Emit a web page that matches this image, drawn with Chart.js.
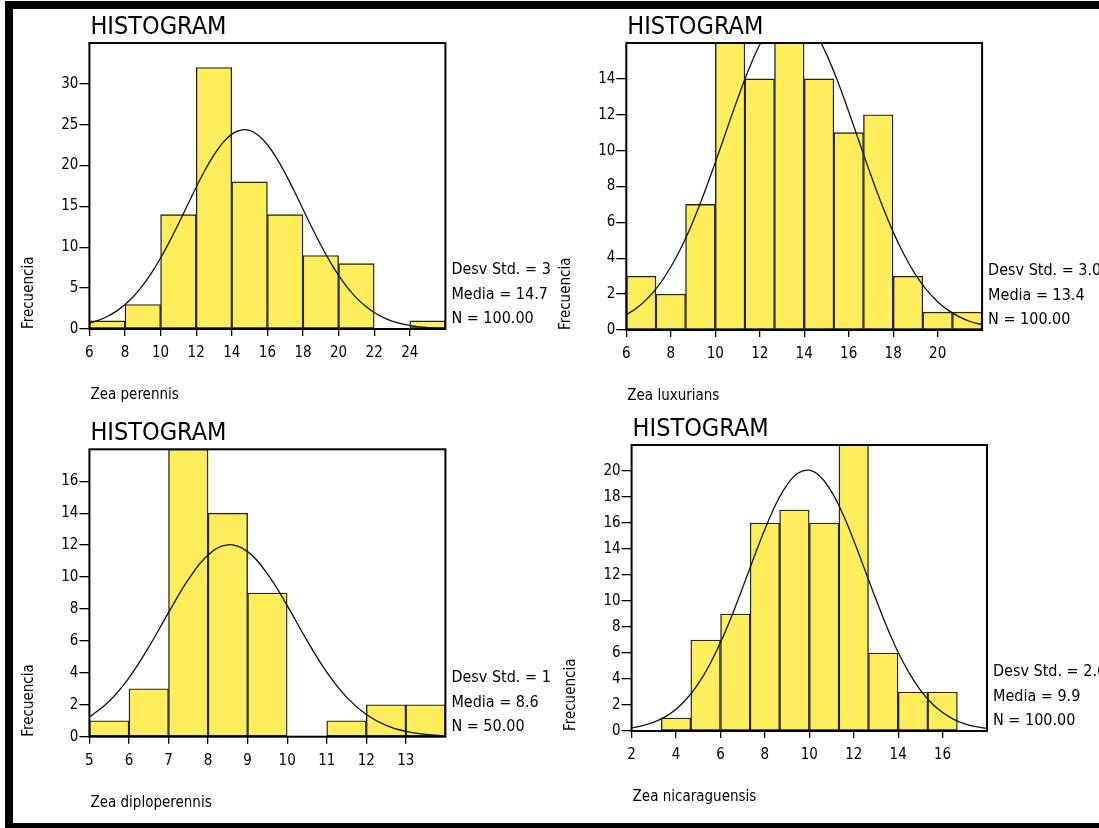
<!DOCTYPE html>
<html>
<head>
<meta charset="utf-8">
<title>Histogramas Zea</title>
<script src="https://cdn.jsdelivr.net/npm/chart.js@4.4.1/dist/chart.umd.min.js"></script>
<style>
  body { margin: 0; background: #fff; width: 1099px; height: 828px; position: relative; overflow: hidden; }
  .rule { position: absolute; background: #000; }
  canvas { position: absolute; }
</style>
</head>
<body>
<div class="rule" style="left:5px;top:1px;width:1094px;height:8px"></div>
<div class="rule" style="left:5px;top:1px;width:8px;height:827px"></div>
<div class="rule" style="left:5px;top:823px;width:1094px;height:5px"></div>

<canvas id="chartPerennis" width="539" height="401" style="left:13px;top:9px"></canvas>
<canvas id="chartLuxurians" width="547" height="401" style="left:552px;top:9px"></canvas>
<canvas id="chartDiploperennis" width="539" height="413" style="left:13px;top:410px"></canvas>
<canvas id="chartNicaraguensis" width="547" height="413" style="left:552px;top:410px"></canvas>

<script>
// --- Zea perennis ---
const perennisBins = [7, 9, 11, 13, 15, 17, 19, 21, 23, 25];
const perennisCounts = [1, 3, 14, 32, 18, 14, 9, 8, 0, 1];
const perennisCurveX = [6, 6.5, 7, 7.5, 8, 8.5, 9, 9.5, 10, 10.5, 11, 11.5, 12, 12.5, 13, 13.5, 14, 14.5, 15, 15.5,
                        16, 16.5, 17, 17.5, 18, 18.5, 19, 19.5, 20, 20.5, 21, 21.5, 22, 22.5, 23, 23.5, 24, 24.5, 25, 25.5, 26];
const perennisCurveY = [0.71, 1.05, 1.53, 2.16, 2.99, 4.04, 5.34, 6.89, 8.69, 10.69, 12.86, 15.12, 17.35, 19.46, 21.32, 22.81, 23.85, 24.35, 24.30, 23.68,
                        22.55, 20.97, 19.05, 16.91, 14.66, 12.42, 10.28, 8.31, 6.56, 5.06, 3.81, 2.81, 2.02, 1.42, 0.97, 0.65, 0.43, 0.27, 0.17, 0.10, 0.06];
const perennisXTicks = [6, 8, 10, 12, 14, 16, 18, 20, 22, 24];
const perennisYTicks = [0, 5, 10, 15, 20, 25, 30];
const perennisStats = ['Desv Std. = 3.27', 'Media = 14.7', 'N = 100.00'];

// --- Zea luxurians ---
const luxuriansBins = [6.67, 8, 9.33, 10.67, 12, 13.33, 14.67, 16, 17.33, 18.67, 20, 21.33];
const luxuriansCounts = [3, 2, 7, 16, 14, 16, 14, 11, 12, 3, 1, 1];
const luxuriansCurveX = [6, 6.5, 7, 7.5, 8, 8.5, 9, 9.5, 10, 10.5, 11, 11.5, 12, 12.5, 13, 13.5, 14,
                         14.5, 15, 15.5, 16, 16.5, 17, 17.5, 18, 18.5, 19, 19.5, 20, 20.5, 21, 21.5, 22];
const luxuriansCurveY = [0.85, 1.26, 1.82, 2.56, 3.51, 4.67, 6.05, 7.62, 9.33, 11.11, 12.87, 14.51, 15.90, 16.95, 17.57, 17.72, 17.38,
                         16.58, 15.38, 13.88, 12.18, 10.40, 8.63, 6.97, 5.47, 4.18, 3.10, 2.24, 1.58, 1.08, 0.72, 0.46, 0.29];
const luxuriansXTicks = [6, 8, 10, 12, 14, 16, 18, 20];
const luxuriansYTicks = [0, 2, 4, 6, 8, 10, 12, 14];
const luxuriansStats = ['Desv Std. = 3.02', 'Media = 13.4', 'N = 100.00'];

// --- Zea diploperennis ---
const diploBins = [5.5, 6.5, 7.5, 8.5, 9.5, 10.5, 11.5, 12.5, 13.5];
const diploCounts = [1, 3, 18, 14, 9, 0, 1, 2, 2];
const diploCurveX = [5, 5.5, 6, 6.5, 7, 7.5, 8, 8.5, 9, 9.5, 10, 10.5, 11, 11.5, 12, 12.5, 13, 13.5, 14];
const diploCurveY = [1.22, 2.22, 3.69, 5.61, 7.77, 9.84, 11.38, 12.02, 11.59, 10.20, 8.21, 6.03, 4.04, 2.48, 1.39, 0.71, 0.33, 0.14, 0.05];
const diploXTicks = [5, 6, 7, 8, 9, 10, 11, 12, 13];
const diploYTicks = [0, 2, 4, 6, 8, 10, 12, 14, 16];
const diploStats = ['Desv Std. = 1.66', 'Media = 8.6', 'N = 50.00'];

// --- Zea nicaraguensis ---
const nicaBins = [2.67, 4, 5.33, 6.67, 8, 9.33, 10.67, 12, 13.33, 14.67, 16, 17.33];
const nicaCounts = [0, 1, 7, 9, 16, 17, 16, 22, 6, 3, 3, 0];
const nicaCurveX = [2, 2.5, 3, 3.5, 4, 4.5, 5, 5.5, 6, 6.5, 7, 7.5, 8, 8.5, 9, 9.5, 10,
                    10.5, 11, 11.5, 12, 12.5, 13, 13.5, 14, 14.5, 15, 15.5, 16, 16.5, 17, 17.5, 18];
const nicaCurveY = [0.24, 0.41, 0.68, 1.09, 1.68, 2.52, 3.63, 5.06, 6.80, 8.81, 11.03, 13.32, 15.52, 17.46, 18.94, 19.84, 20.06,
                    19.56, 18.41, 16.73, 14.66, 12.40, 10.13, 7.98, 6.06, 4.45, 3.15, 2.15, 1.42, 0.90, 0.55, 0.33, 0.19];
const nicaXTicks = [2, 4, 6, 8, 10, 12, 14, 16];
const nicaYTicks = [0, 2, 4, 6, 8, 10, 12, 14, 16, 18, 20];
const nicaStats = ['Desv Std. = 2.65', 'Media = 9.9', 'N = 100.00'];

const FONT = '"DejaVu Sans Condensed", "DejaVu Sans", sans-serif';
Chart.defaults.font.family = FONT;
Chart.defaults.color = '#000';

const Y_AXIS_W = 40;
const X_AXIS_H = 30;

// frame, title, axis titles and the stats block beside each plot
const panelText = {
    id: 'panelText',
    afterDraw(chart, args, opts) {
        const ctx = chart.ctx;
        const a = chart.chartArea;
        ctx.save();
        ctx.strokeStyle = '#000';
        ctx.lineWidth = 2;
        ctx.strokeRect(a.left, a.top, a.right - a.left, a.bottom - a.top);

        ctx.fillStyle = '#000';
        ctx.textAlign = 'left';
        ctx.textBaseline = 'alphabetic';
        ctx.font = '25px ' + FONT;
        ctx.fillText('HISTOGRAM', a.left + 1, a.top - 9.5);

        ctx.textBaseline = 'middle';
        ctx.font = '15px ' + FONT;
        ctx.fillText(opts.xLabel, a.left + 1, a.bottom + 66);

        ctx.save();
        ctx.translate(a.left - 60, a.bottom);
        ctx.rotate(-Math.PI / 2);
        ctx.fillText('Frecuencia', 0, 0);
        ctx.restore();

        ctx.font = '16px ' + FONT;
        const rows = [-59, -34, -10];
        opts.stats.forEach((s, i) => ctx.fillText(s, a.right + 6, a.bottom + rows[i]));
        ctx.restore();
    }
};

function Make_histogram(id, cfg) {
    const canvas = document.getElementById(id);
    const area = cfg.area;

    new Chart(canvas, {
        type: 'bar',
        data: {
            datasets: [
                {
                    type: 'line',
                    order: 0,
                    data: cfg.curveX.map((x, i) => ({ x: x, y: cfg.curveY[i] })),
                    borderColor: '#111',
                    borderWidth: 1.3,
                    pointRadius: 0,
                    tension: 0.4,
                    fill: false
                },
                {
                    type: 'bar',
                    order: 1,
                    data: cfg.bins.map((x, i) => ({ x: x, y: cfg.counts[i] })),
                    backgroundColor: '#FFEE5C',
                    borderColor: '#24241a',
                    borderWidth: 1.4,
                    borderSkipped: false,
                    barPercentage: 1,
                    categoryPercentage: 1
                }
            ]
        },
        options: {
            responsive: false,
            animation: false,
            layout: {
                padding: {
                    left: area.left - Y_AXIS_W,
                    top: area.top,
                    right: canvas.width - area.right,
                    bottom: canvas.height - area.bottom - X_AXIS_H
                }
            },
            plugins: {
                legend: { display: false },
                tooltip: { enabled: false },
                panelText: { xLabel: cfg.xLabel, stats: cfg.stats }
            },
            scales: {
                x: {
                    type: 'linear',
                    min: cfg.xMin,
                    max: cfg.xMax,
                    offset: false,
                    afterBuildTicks: s => { s.ticks = cfg.xTicks.map(v => ({ value: v })); },
                    afterFit: s => { s.height = X_AXIS_H; },
                    grid: { offset: false, drawOnChartArea: false, drawTicks: true, tickLength: 7, color: '#000', lineWidth: 1.3 },
                    border: { display: false },
                    ticks: { autoSkip: false, maxRotation: 0, padding: 8, font: { size: 15 }, color: '#000' }
                },
                y: {
                    type: 'linear',
                    min: 0,
                    max: cfg.yMax,
                    afterBuildTicks: s => { s.ticks = cfg.yTicks.map(v => ({ value: v })); },
                    afterFit: s => { s.width = Y_AXIS_W; },
                    grid: { drawOnChartArea: false, drawTicks: true, tickLength: 10, color: '#000', lineWidth: 1.3 },
                    border: { display: false },
                    ticks: { autoSkip: false, padding: 1, font: { size: 15 }, color: '#000' }
                }
            }
        },
        plugins: [panelText]
    });
}

Make_histogram('chartPerennis', {
    bins: perennisBins, counts: perennisCounts,
    curveX: perennisCurveX, curveY: perennisCurveY,
    xMin: 6, xMax: 26, yMax: 35,
    xTicks: perennisXTicks, yTicks: perennisYTicks,
    xLabel: 'Zea perennis', stats: perennisStats,
    area: { left: 76.4, top: 34, right: 432.4, bottom: 320 }
});

Make_histogram('chartLuxurians', {
    bins: luxuriansBins, counts: luxuriansCounts,
    curveX: luxuriansCurveX, curveY: luxuriansCurveY,
    xMin: 6, xMax: 22, yMax: 16,
    xTicks: luxuriansXTicks, yTicks: luxuriansYTicks,
    xLabel: 'Zea luxurians', stats: luxuriansStats,
    area: { left: 74.3, top: 34, right: 430.1, bottom: 321 }
});

Make_histogram('chartDiploperennis', {
    bins: diploBins, counts: diploCounts,
    curveX: diploCurveX, curveY: diploCurveY,
    xMin: 5, xMax: 14, yMax: 18,
    xTicks: diploXTicks, yTicks: diploYTicks,
    xLabel: 'Zea diploperennis', stats: diploStats,
    area: { left: 76.4, top: 39.3, right: 432.4, bottom: 326.7 }
});

Make_histogram('chartNicaraguensis', {
    bins: nicaBins, counts: nicaCounts,
    curveX: nicaCurveX, curveY: nicaCurveY,
    xMin: 2, xMax: 18, yMax: 22,
    xTicks: nicaXTicks, yTicks: nicaYTicks,
    xLabel: 'Zea nicaraguensis', stats: nicaStats,
    area: { left: 79.6, top: 35, right: 435, bottom: 321 }
});
</script>
</body>
</html>
